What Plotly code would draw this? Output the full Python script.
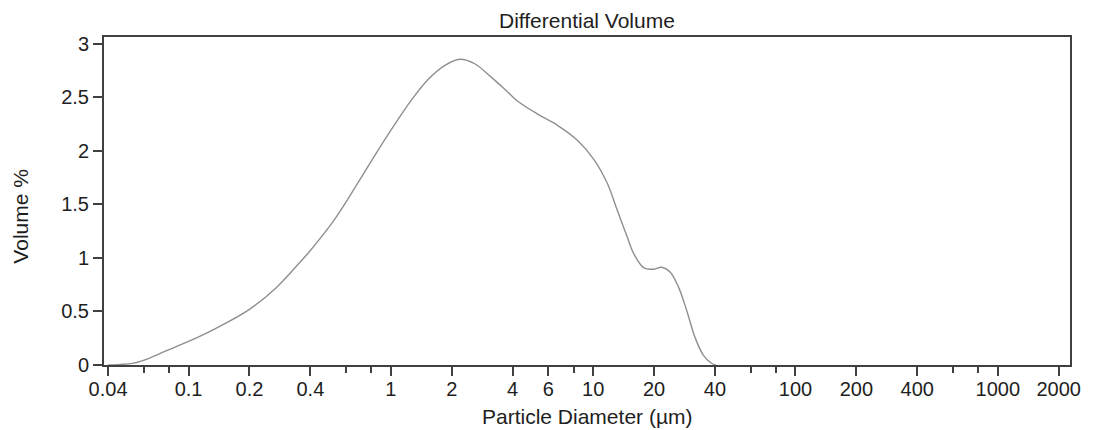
import plotly.graph_objects as go

# Particle size distribution (differential volume)
diameter_um = [0.04, 0.046, 0.0534, 0.0643, 0.0779, 0.1, 0.1373, 0.2, 0.2705,
               0.3516, 0.4, 0.513, 0.6198, 0.7204, 0.870, 1.051, 1.268, 1.531,
               1.850, 2.193, 2.597, 3.134, 3.713, 4.239, 5.313, 6.664, 8.354,
               10.09, 11.73, 13.13, 14.71, 15.87, 17.77, 19.89, 21.85, 24.00,
               26.39, 28.99, 31.85, 35.02, 38.46, 40.4]
volume_pct = [0.0, 0.005, 0.017, 0.065, 0.135, 0.22, 0.345, 0.52, 0.72,
              0.95, 1.07, 1.33, 1.565, 1.765, 2.015, 2.255, 2.48, 2.67,
              2.80, 2.857, 2.815, 2.69, 2.565, 2.465, 2.345, 2.24, 2.10,
              1.92, 1.70, 1.45, 1.20, 1.04, 0.91, 0.895, 0.913, 0.87,
              0.73, 0.51, 0.26, 0.093, 0.016, 0.0]

x_major = [0.04, 0.1, 0.2, 0.4, 1, 2, 4, 6, 10, 20, 40, 100, 200, 400, 1000, 2000]
x_major_text = ["0.04", "0.1", "0.2", "0.4", "1", "2", "4", "6", "10", "20", "40",
                "100", "200", "400", "1000", "2000"]
x_minor = [0.06, 0.08, 0.6, 0.8, 8, 60, 80, 600, 800]
y_ticks = [0, 0.5, 1, 1.5, 2, 2.5, 3]
y_tick_text = ["0", "0.5", "1", "1.5", "2", "2.5", "3"]

FONT = "Liberation Sans, Arial, sans-serif"
TEXT = "#1e1e1e"
AXIS = "#404040"

fig = go.Figure(
    go.Scatter(
        x=diameter_um, y=volume_pct, mode="lines",
        line=dict(color="#8f8f8f", width=1.4, shape="spline", smoothing=1.0),
        hoverinfo="x+y", showlegend=False,
    )
)

fig.update_layout(
    width=1093, height=430,
    margin=dict(l=104, r=17, t=37, b=65),
    paper_bgcolor="white", plot_bgcolor="white",
    font=dict(family=FONT, size=20, color=TEXT),
    annotations=[
        dict(text="Differential Volume", xref="paper", yref="paper",
             x=0.5, y=1.049, xanchor="center", yanchor="middle",
             showarrow=False, font=dict(size=21, color=TEXT)),
        dict(text="Particle Diameter (µm)", xref="paper", yref="paper",
             x=0.5, y=-0.158, xanchor="center", yanchor="middle",
             showarrow=False, font=dict(size=21, color=TEXT)),
        dict(text="Volume %", xref="paper", yref="paper",
             x=-0.0864, y=0.454, xanchor="center", yanchor="middle",
             textangle=-90, showarrow=False, font=dict(size=21, color=TEXT)),
    ],
)

fig.update_xaxes(
    type="log", range=[-1.418, 3.357],
    tickmode="array", tickvals=x_major, ticktext=x_major_text,
    ticks="outside", ticklen=9, tickwidth=2, tickcolor=AXIS,
    ticklabelstandoff=-4,
    minor=dict(tickmode="array", tickvals=x_minor, ticks="outside",
               ticklen=6, tickwidth=2, tickcolor=AXIS, showgrid=False),
    showline=True, linecolor=AXIS, linewidth=2, mirror=True,
    showgrid=False, zeroline=False,
    tickfont=dict(size=20, color=TEXT),
)
fig.update_yaxes(
    range=[0, 3.065],
    tickmode="array", tickvals=y_ticks, ticktext=y_tick_text,
    ticks="outside", ticklen=9, tickwidth=2, tickcolor=AXIS,
    showline=True, linecolor=AXIS, linewidth=2, mirror=True,
    showgrid=False, zeroline=False,
    tickfont=dict(size=20, color=TEXT),
)

fig.write_html("out.html")
